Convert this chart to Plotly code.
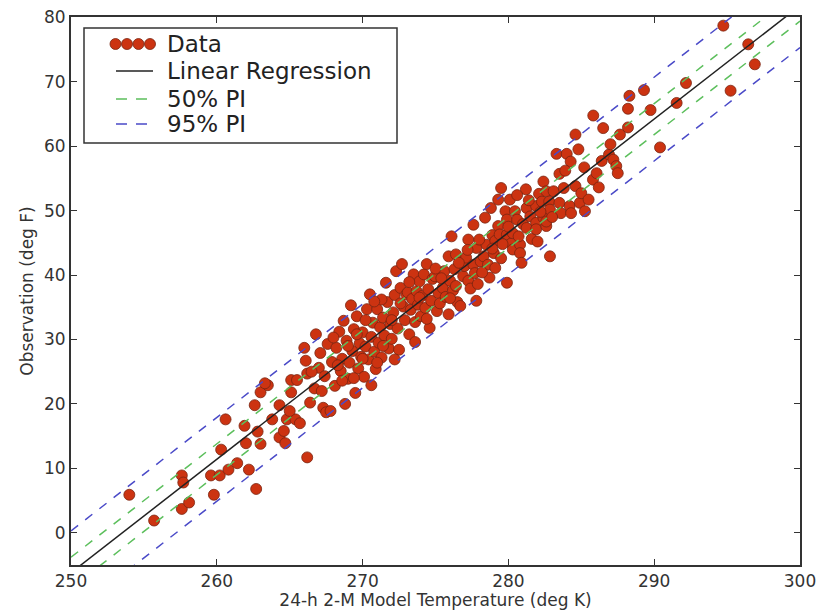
import plotly.graph_objects as go

# ---------------- data ----------------
temp_k = [
    254.0, 255.7, 257.6, 257.7, 257.6, 258.1, 259.6, 260.2, 259.8, 260.3,
    260.6, 260.8, 261.4, 262.0, 262.2, 262.7, 262.6, 262.8, 263.0, 263.0,
    263.5, 264.3, 263.8, 264.3, 264.6, 264.7, 264.8, 265.1, 265.5, 265.1,
    265.4, 265.7, 266.2, 266.1, 266.2, 261.9, 265.0, 266.0, 266.4, 263.3,
    266.8, 266.7, 267.0, 267.1, 267.3, 267.5, 267.8, 267.4, 267.6, 267.9,
    268.1, 268.2, 268.4, 268.5, 268.6, 268.8, 268.7, 268.9, 269.0, 269.1,
    269.3, 269.4, 269.5, 269.6, 269.7, 269.8, 269.9, 270.0, 270.1, 270.2,
    270.3, 270.4, 270.5, 270.6, 270.7, 270.8, 270.9, 271.0, 271.1, 271.2,
    271.3, 271.4, 271.5, 271.6, 271.7, 271.8, 271.9, 271.3, 270.6, 269.2,
    272.0, 272.1, 272.2, 272.3, 272.4, 272.5, 272.6, 272.7, 272.8, 272.9,
    273.0, 273.1, 273.2, 273.3, 273.4, 273.5, 273.6, 273.7, 273.8, 273.9,
    274.0, 274.1, 274.2, 274.3, 274.4, 274.5, 274.6, 274.7, 274.8, 274.96,
    275.1, 275.2, 275.3, 275.5, 275.6, 275.7, 275.9, 275.9, 276.0, 276.1,
    276.2, 276.3, 276.4, 276.4, 276.5, 276.7, 276.9, 277.0, 277.1, 277.25,
    277.25, 277.4, 277.6, 277.6, 277.7, 277.8, 277.8, 277.9, 272.2, 273.6,
    278.1, 278.3, 278.4, 278.5, 278.6, 278.7, 278.9, 279.0, 279.1, 279.1,
    279.3, 279.3, 279.4, 279.5, 279.8, 279.9, 279.9, 279.9, 280.1, 280.2,
    280.3, 280.3, 280.45, 280.6, 280.8, 280.8, 281.0, 281.25, 281.25, 281.5,
    281.6, 281.9, 281.9, 281.9, 282.1, 282.3, 282.4, 282.4, 282.6, 282.6,
    282.6, 282.8, 282.85, 282.85, 282.0, 281.2, 280.6, 279.5, 278.8, 280.9,
    283.1, 283.3, 283.5, 283.5, 283.6, 283.8, 284.0, 284.2, 284.27, 284.3,
    284.6, 284.6, 284.9, 285.0, 285.2, 285.25, 285.5, 285.8, 285.82, 286.05,
    286.4, 286.5, 286.9, 287.2, 287.4, 287.5, 287.65, 288.2, 288.2, 288.3,
    289.3, 289.75, 290.4, 291.54, 292.18, 294.74, 295.24, 296.45, 296.9, 284.8,
    283.9, 286.2, 287.0,
    268.0, 268.3, 269.0, 269.6, 270.2, 270.8, 271.4, 272.0, 272.6, 273.2,
    273.9, 274.4, 275.0, 275.4, 276.0, 276.6, 277.2, 278.0, 278.2, 278.9,
    279.6, 280.0, 280.7, 281.4, 282.2, 283.0, 267.2, 266.5, 268.6, 269.4,
    270.0, 271.0,
]
obs_f = [
    5.9, 1.9, 8.9, 7.8, 3.7, 4.7, 8.9, 8.9, 5.9, 12.9,
    17.6, 9.8, 10.8, 13.9, 9.8, 6.8, 19.8, 15.7, 13.8, 21.8,
    22.9, 19.8, 17.6, 14.8, 15.8, 13.9, 17.6, 23.7, 23.7, 21.8,
    17.6, 17.0, 11.7, 26.7, 24.7, 16.6, 18.9, 28.7, 20.2, 23.2,
    30.8, 22.4, 25.6, 27.9, 19.4, 18.7, 18.9, 24.3, 29.3, 26.5,
    22.8, 28.7, 31.2, 25.1, 27.0, 20.0, 32.9, 29.8, 23.9, 26.4,
    28.2, 31.6, 21.7, 33.6, 25.5, 29.4, 27.3, 31.1, 24.2, 28.9,
    34.7, 26.9, 37.0, 30.4, 32.6, 28.1, 25.4, 34.7, 29.5, 31.9,
    27.2, 33.4, 30.6, 38.8, 35.8, 28.6, 32.4, 36.2, 22.9, 35.3,
    30.1, 34.2, 36.9, 40.6, 31.7, 28.4, 38.0, 41.7, 35.1, 33.0,
    37.0, 37.3, 30.8, 34.6, 36.3, 40.1, 32.7, 37.5, 35.4, 39.0,
    33.6, 36.8, 40.1, 34.9, 41.7, 37.8, 31.8, 36.0, 39.4, 39.8,
    34.4, 37.2, 35.6, 38.0, 40.6, 36.6, 33.9, 42.9, 39.1, 46.0,
    37.6, 40.9, 38.3, 43.2, 35.8, 35.2, 39.8, 41.4, 42.7, 39.1,
    45.5, 37.9, 41.6, 47.8, 40.3, 36.0, 44.2, 38.6, 26.9, 29.6,
    42.1, 42.9, 48.9, 44.7, 41.6, 39.6, 46.2, 43.4, 45.3, 41.1,
    51.7, 47.6, 46.3, 42.6, 49.9, 48.6, 46.3, 38.8, 51.7, 44.9,
    46.5, 43.96, 49.9, 48.6, 44.7, 43.4, 47.9, 50.4, 47.3, 49.1,
    45.6, 50.7, 48.1, 47.1, 52.6, 51.4, 54.5, 48.9, 53.0, 47.6,
    48.3, 51.4, 50.15, 42.9, 45.2, 53.3, 52.4, 53.5, 50.4, 41.9,
    53.0, 58.8, 55.7, 51.2, 49.6, 53.5, 58.8, 50.7, 57.6, 49.6,
    61.8, 53.8, 51.2, 52.7, 56.7, 49.9, 51.7, 54.8, 64.75, 55.8,
    57.7, 62.8, 58.7, 57.9, 56.9, 55.8, 61.8, 62.9, 65.8, 67.8,
    68.7, 65.6, 59.8, 66.7, 69.8, 78.7, 68.6, 75.8, 72.7, 59.5,
    56.2, 53.6, 60.3,
    30.3, 26.0, 29.0, 30.8, 33.0, 35.9, 29.0, 33.0, 35.6, 38.9,
    36.5, 33.2, 41.0, 39.5, 36.4, 41.9, 43.9, 45.5, 40.4, 44.1,
    44.8, 47.5, 46.0, 51.6, 49.8, 49.0, 22.0, 25.0, 23.6, 24.0,
    27.0, 26.4,
]

# regression line and prediction-interval half widths (deg F)
line_x = [250, 300]
reg_y = [-6.2, 81.8]
pi50_half = 2.4
pi95_half = 6.5

x_ticks = [250, 260, 270, 280, 290, 300]
y_ticks = [0, 10, 20, 30, 40, 50, 60, 70, 80]

legend_labels = ["Data", "Linear Regression", "50% PI", "95% PI"]

# ---------------- styles ----------------
RED = "#cc3311"
RED_EDGE = "#7a2410"
GREEN = "#5cbf5c"
BLUE = "#4a4ac8"
FRAME = "#333333"
FONT = "DejaVu Sans"

fig = go.Figure()

fig.add_trace(go.Scatter(
    x=temp_k, y=obs_f, mode="markers", name=legend_labels[0],
    marker=dict(size=11, color=RED, line=dict(color=RED_EDGE, width=0.8)),
    showlegend=False,
))
fig.add_trace(go.Scatter(
    x=line_x, y=reg_y, mode="lines", name=legend_labels[1],
    line=dict(color="#222222", width=1.5), showlegend=False,
))
for half, col, nm in [(pi50_half, GREEN, legend_labels[2]), (pi95_half, BLUE, legend_labels[3])]:
    for sgn in (1, -1):
        fig.add_trace(go.Scatter(
            x=line_x, y=[v + sgn * half for v in reg_y], mode="lines", name=nm,
            line=dict(color=col, width=1.5, dash="9px,9px"), showlegend=False,
        ))

# ---------------- layout geometry (page body adds an 8px offset) ----------------
OFF = 8
W, H = 825 - OFF, 610 - OFF
L, T = 71 - OFF, 17 - OFF
R = W - (800 - OFF)
B = H - (565 - OFF)
PW, PH = W - L - R, H - T - B


def px2x(px):
    return (px - OFF - L) / PW


def py2y(py):
    return (H - B - (py - OFF)) / PH


# ---------------- custom matplotlib-like legend ----------------
shapes = [dict(type="rect", xref="paper", yref="paper",
               x0=px2x(84), x1=px2x(397), y0=py2y(143), y1=py2y(28),
               line=dict(color=FRAME, width=1.5), fillcolor="white", layer="above")]
row_y = [44, 71, 99, 124]
rad = 5.5
for cx in [115.5, 127, 138.5, 150]:
    shapes.append(dict(type="circle", xref="paper", yref="paper",
                       x0=px2x(cx - rad), x1=px2x(cx + rad),
                       y0=py2y(row_y[0] + rad), y1=py2y(row_y[0] - rad),
                       fillcolor=RED, line=dict(color=RED_EDGE, width=0.8), layer="above"))
shapes.append(dict(type="line", xref="paper", yref="paper",
                   x0=px2x(116), x1=px2x(153), y0=py2y(row_y[1]), y1=py2y(row_y[1]),
                   line=dict(color="#222222", width=1.5), layer="above"))
shapes.append(dict(type="line", xref="paper", yref="paper",
                   x0=px2x(116), x1=px2x(153), y0=py2y(row_y[2]), y1=py2y(row_y[2]),
                   line=dict(color=GREEN, width=1.5, dash="11px,9px"), layer="above"))
shapes.append(dict(type="line", xref="paper", yref="paper",
                   x0=px2x(116), x1=px2x(153), y0=py2y(row_y[3]), y1=py2y(row_y[3]),
                   line=dict(color=BLUE, width=1.5, dash="11px,9px"), layer="above"))

annotations = []
for lbl, ry in zip(legend_labels, row_y):
    annotations.append(dict(text=lbl, xref="paper", yref="paper",
                            x=px2x(165), y=py2y(ry), xanchor="left", yanchor="middle",
                            showarrow=False, font=dict(family=FONT, size=23, color="#222222")))

axis_common = dict(
    showgrid=False, zeroline=False, showline=True, linecolor=FRAME, linewidth=2,
    mirror="ticks", ticks="inside", ticklen=6, tickwidth=1, tickcolor=FRAME,
    tickfont=dict(family=FONT, size=17, color="#333333"),
    ticklabeloverflow="allow",
)

fig.update_layout(
    width=W, height=H,
    margin=dict(l=L, r=R, t=T, b=B),
    paper_bgcolor="white", plot_bgcolor="white",
    font=dict(family=FONT, color="#333333"),
    shapes=shapes, annotations=annotations,
    xaxis=dict(range=[250, 300], tickvals=x_ticks, ticktext=[str(v) for v in x_ticks],
               title=dict(text="24-h 2-M Model Temperature (deg K)",
                          font=dict(family=FONT, size=17, color="#333333")),
               automargin=False, **axis_common),
    yaxis=dict(range=[-5, 80.04], tickvals=y_ticks, ticktext=[str(v) for v in y_ticks],
               title=dict(text="Observation (deg F)",
                          font=dict(family=FONT, size=17, color="#333333"), standoff=6),
               automargin=False, **axis_common),
)

fig.write_html("out.html")
